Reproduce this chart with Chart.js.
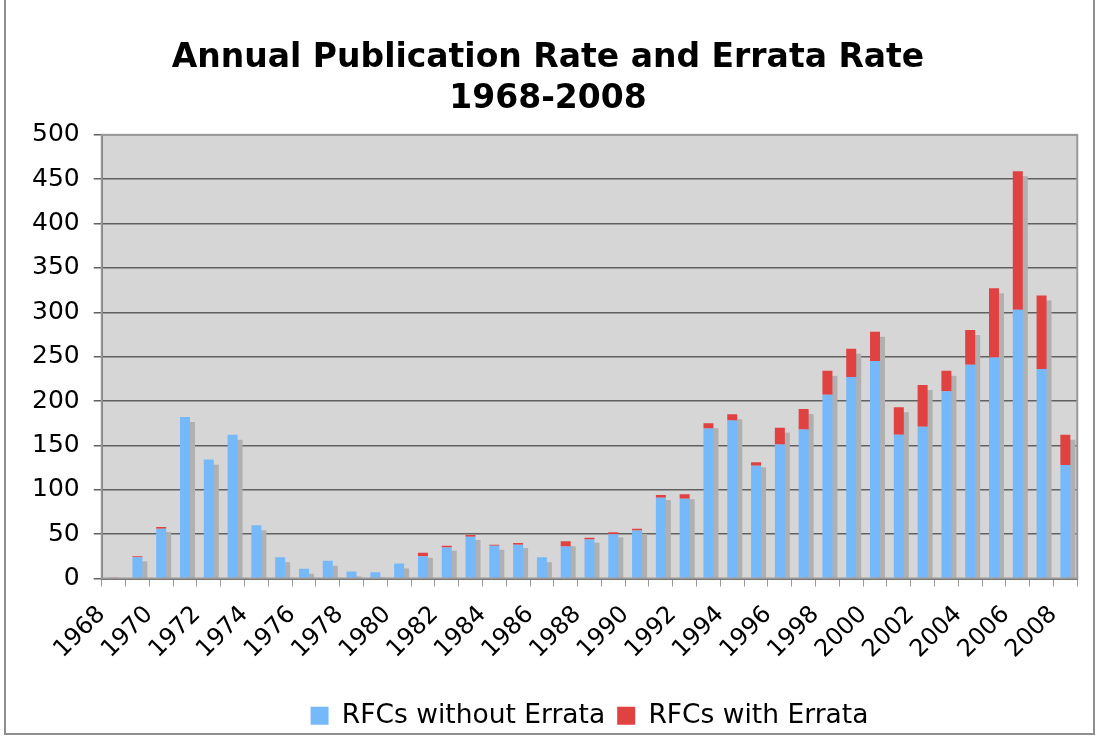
<!DOCTYPE html>
<html>
<head>
<meta charset="utf-8">
<script src="https://cdn.jsdelivr.net/npm/chart.js@4"></script>
<style>
    html, body { margin: 0; padding: 0; background: #fff; }
    #wrap { position: relative; width: 1100px; height: 739px; }
    #frame { position: absolute; left: 4px; top: -2px; width: 1091px; height: 737px; border: 2px solid #8e8e8e; box-sizing: border-box; pointer-events: none; }
</style>
</head>
<body>
<div id="wrap">
    <canvas id="rfcChart" width="1100" height="739"></canvas>
    <div id="frame"></div>
</div>
<script>
// Years 1968-2008
var years = [];
for (var y = 1968; y <= 2008; y++) years.push(String(y));

// RFCs published per year without / with errata
var withoutErrata = [0, 24, 56, 182, 134, 162, 60, 24, 11, 20, 8, 7, 17, 25, 35, 47, 37, 38, 24, 36,
    44, 50, 54, 91, 90, 169, 178, 127, 151, 168, 207, 227, 245, 162, 171, 211, 241, 249, 303, 236, 128];
var withErrata = [1, 1, 2, 0, 0, 0, 0, 0, 0, 0, 0, 0, 0, 4, 2, 2, 1, 2, 0, 6,
    2, 2, 2, 3, 5, 6, 7, 4, 19, 23, 27, 32, 33, 31, 47, 23, 39, 78, 156, 83, 34];

var yTicks = [0, 50, 100, 150, 200, 250, 300, 350, 400, 450, 500];

// Grey plot background + drop shadow behind each stacked bar
var plotDecor = {
    id: 'plotDecor',
    beforeDatasetsDraw: function (chart) {
        var ctx = chart.ctx, a = chart.chartArea;
        ctx.save();
        ctx.beginPath();
        ctx.rect(a.left, a.top, a.right - a.left, a.bottom - a.top);
        ctx.clip();
        var m0 = chart.getDatasetMeta(0), m1 = chart.getDatasetMeta(1);
        ctx.fillStyle = '#b0b0b0';
        m0.data.forEach(function (bar, i) {
            var top = Math.min(bar.y, m1.data[i].y);
            var h = bar.base - top;
            if (h <= 0.5) return;
            ctx.fillRect(bar.x - bar.width / 2 + 5, top + 5, bar.width, h);
        });
        ctx.restore();
    },
    beforeDraw: function (chart) {
        var ctx = chart.ctx, a = chart.chartArea;
        ctx.save();
        ctx.fillStyle = '#d6d6d6';
        ctx.fillRect(a.left, a.top, a.right - a.left, a.bottom - a.top);
        ctx.restore();
    },
    afterDraw: function (chart) {
        var ctx = chart.ctx, a = chart.chartArea;
        ctx.save();
        ctx.strokeStyle = '#9a9a9a';
        ctx.lineWidth = 2;
        ctx.strokeRect(a.left, a.top, a.right - a.left, a.bottom - a.top);
        ctx.restore();
    }
};

var ctx = document.getElementById('rfcChart').getContext('2d');
new Chart(ctx, {
    type: 'bar',
    data: {
        labels: years,
        datasets: [{
            label: 'RFCs without Errata',
            data: withoutErrata,
            backgroundColor: '#75b9fb',
            borderWidth: 0,
            barPercentage: 0.42,
            categoryPercentage: 1
        }, {
            label: 'RFCs with Errata',
            data: withErrata,
            backgroundColor: '#e04141',
            borderWidth: 0,
            barPercentage: 0.42,
            categoryPercentage: 1
        }]
    },
    options: {
        responsive: false,
        animation: false,
        devicePixelRatio: 1,
        layout: {
            padding: { left: 18, right: 22, top: 10, bottom: 0 }
        },
        plugins: {
            title: {
                display: true,
                text: ['Annual Publication Rate and Errata Rate', '1968-2008'],
                color: '#000',
                font: { family: 'DejaVu Sans', size: 33, weight: 'bold', lineHeight: 1.27 },
                padding: { top: 27, bottom: 14 }
            },
            legend: {
                position: 'bottom',
                fullSize: false,
                labels: {
                    color: '#000',
                    boxWidth: 18,
                    boxHeight: 18,
                    padding: 12,
                    font: { family: 'DejaVu Sans', size: 26.5 }
                }
            },
            tooltip: { enabled: false }
        },
        scales: {
            x: {
                stacked: true,
                border: { color: '#555', width: 2 },
                grid: { drawOnChartArea: false, color: '#999', tickLength: 8 },
                afterFit: function (axis) {
                    axis.height = 112;
                },
                ticks: {
                    autoSkip: false,
                    minRotation: 45,
                    maxRotation: 45,
                    labelOffset: -12,
                    padding: 14,
                    color: '#000',
                    font: { family: 'DejaVu Sans', size: 24 },
                    callback: function (val, idx) {
                        return idx % 2 === 0 ? years[idx] : '';
                    }
                }
            },
            y: {
                stacked: true,
                min: 0,
                max: 500,
                afterBuildTicks: function (axis) {
                    axis.ticks = yTicks.map(function (v) { return { value: v }; });
                },
                border: { color: '#555', width: 2 },
                grid: { color: '#606060', lineWidth: 1.5, tickLength: 8 },
                ticks: {
                    color: '#000',
                    padding: 14,
                    font: { family: 'DejaVu Sans', size: 25 }
                }
            }
        }
    },
    plugins: [plotDecor]
});
</script>
</body>
</html>
